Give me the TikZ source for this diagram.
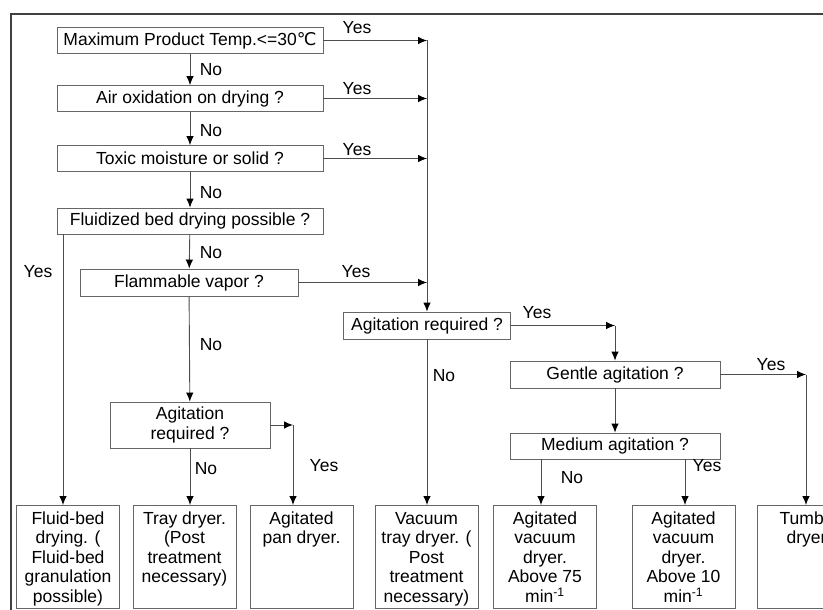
\documentclass[tikz,border=0pt]{standalone}
\usepackage{fontspec}
\setmainfont{Liberation Sans}
\newfontfamily\symfont{DejaVu Sans}
\usetikzlibrary{arrows.meta}
\newcommand{\qfont}{\fontsize{17.5}{19.5}\selectfont}
\newcommand{\drytext}[1]{\parbox[t][96pt][t]{100pt}{\centering\rule{0pt}{15.5pt}#1}}
\tikzstyle{question}=[rectangle,draw=black!60,minimum height=26pt,inner sep=0pt,font=\qfont]
\tikzstyle{dryer}=[rectangle,draw=black!60,minimum width=103pt,minimum height=103pt,inner xsep=0pt,inner ysep=3.5pt,anchor=north,font=\qfont]
\tikzstyle{edge} = [draw=black!70,-{Latex[length=9pt,width=7.5pt,black]}]
\tikzstyle{weight} = [font=\qfont]
\begin{document}
\begin{tikzpicture}[x=1pt,y=-1pt,line width=0.9pt]
   \useasboundingbox (0,0) rectangle (823,610);
   \clip (0,0) rectangle (823,610);

   \draw[line width=1.3pt,black!75] (11,612) -- (11,14) -- (825,14);

    % questions
    \node[question,minimum width=266pt] (maxtemp) at (190,40.5) {Maximum Product Temp.<=30{\symfont ℃}};
    \node[question,minimum width=266pt] (airox) at (190,98.5) {Air oxidation on drying ?};
    \node[question,minimum width=266pt] (toxic) at (190,158.5) {Toxic moisture or solid ?};
    \node[question,minimum width=266pt] (fluidq) at (190,221) {Fluidized bed drying possible ?};
    \node[question,minimum width=218pt,minimum height=27pt] (flamm) at (189,282.5) {Flammable vapor ?};
    \node[question,minimum width=160pt,minimum height=46pt,align=center] (agitleft) at (190,425) {Agitation\\required ?};
    \node[question,minimum width=167pt,minimum height=27pt] (agitmid) at (427,325.5) {Agitation required ?};
    \node[question,minimum width=210pt,minimum height=27pt] (gentle) at (615,374.5) {Gentle agitation ?};
    \node[question,minimum width=210pt] (medium) at (615,446) {Medium agitation ?};

    % dryers
    \foreach \pos/ \name / \label in {{(68,505)/fluidbed/{Fluid-bed\\drying. (\\Fluid-bed\\granulation\\possible)}},
        {(184.5,505)/tray/{Tray dryer.\\(Post\\treatment\\necessary)}},
        {(301.5,505)/pan/{Agitated\\pan dryer.}},
        {(426.5,505)/vactray/{Vacuum\\tray dryer. (\\Post\\treatment\\necessary)}},
        {(545,505)/avdfast/{Agitated\\vacuum\\dryer.\\Above 75\\min\textsuperscript{-1}}},
        {(683.5,505)/avdslow/{Agitated\\vacuum\\dryer.\\Above 10\\min\textsuperscript{-1}}},
        {(808.5,505)/tumble/{Tumble\\dryer.}}}
        \node[dryer] (\name) at \pos {\drytext{\label}};

    \coordinate (spinetop) at (427,40.5);
    \coordinate (fluidyes) at (63,234);
    \coordinate (pancorner) at (293,425);
    \coordinate (gentcorner) at (615,325.5);
    \coordinate (tumcorner) at (806,374.5);
    \coordinate (medno) at (541,459);
    \coordinate (medyes) at (685,459);

    % No branches
    \foreach \source/ \dest in {maxtemp/airox,airox/toxic,toxic/fluidq,fluidq/flamm,flamm/agitleft,gentle/medium}
        \draw[edge] (\source) -- (\dest);
    \draw[edge] (agitleft) -- (agitleft |- tray.north);
    \draw[edge] (agitmid) -- (agitmid |- vactray.north);
    \draw[edge] (medno) -- (medno |- avdfast.north);

    % Yes branches
    \foreach \source in {maxtemp,airox,toxic,flamm}
        \draw[edge] (\source) -- (\source -| spinetop);
    \draw[edge] (spinetop) -- (agitmid);
    \draw[edge] (fluidyes) -- (fluidyes |- fluidbed.north);
    \draw[edge] (agitleft) -- (pancorner);
    \draw[edge] (pancorner) -- (pancorner |- pan.north);
    \draw[edge] (agitmid) -- (gentcorner);
    \draw[edge] (gentcorner) -- (gentle);
    \draw[edge] (gentle) -- (tumcorner);
    \draw[edge] (tumcorner) -- (tumcorner |- tumble.north);
    \draw[edge] (medyes) -- (medyes |- avdslow.north);

    \foreach \pos/ \name / \label in {{(357,28)/yesmax/Yes},{(211,70)/nomax/No},{(357,89)/yesair/Yes},{(211,131)/noair/No},
        {(357,150)/yestox/Yes},{(211,193)/notox/No},{(211,253)/nofluid/No},{(38,272)/yesfluid/Yes},
        {(356,272)/yesflam/Yes},{(211,345)/noflam/No},{(206,469)/noleft/No},{(324,466)/yesleft/Yes},
        {(444,376)/nomid/No},{(537,313)/yesmid/Yes},{(771,365)/yesgentle/Yes},{(572,478)/nomed/No},{(707,466)/yesmed/Yes}}
        \node[weight] (\name) at \pos {\label};

\end{tikzpicture}
\end{document}
